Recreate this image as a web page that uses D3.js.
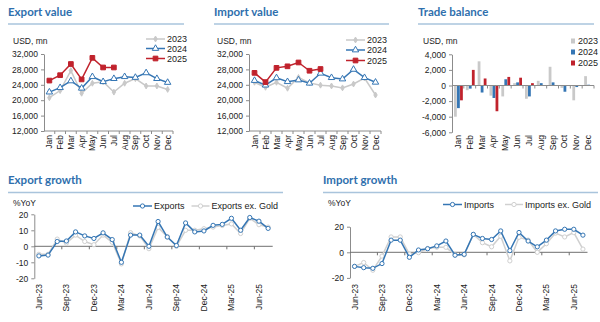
<!DOCTYPE html>
<html>
<head>
<meta charset="utf-8">
<script src="https://cdn.jsdelivr.net/npm/d3@7"></script>
<style>
  body { margin: 0; background: #fff; }
  text { font-family: "Liberation Sans", Arial, sans-serif; fill: #222; }
</style>
</head>
<body>
<div id="chart"></div>
<script>
// ---- data ----
const months = ["Jan", "Feb", "Mar", "Apr", "May", "Jun", "Jul", "Aug", "Sep", "Oct", "Nov", "Dec"];
const years = ["2023", "2024", "2025"];

const export2023 = [20650, 22500, 27700, 21800, 24400, 24800, 22100, 24400, 25600, 23700, 23700, 22800];
const export2024 = [22100, 23250, 25000, 23100, 26100, 24800, 25600, 26100, 25900, 27100, 25600, 24600];
const export2025 = [25100, 26500, 29400, 25400, 31000, 28500, 28500];

const import2023 = [24650, 23350, 24650, 23100, 25900, 24500, 23900, 23700, 23200, 24200, 25750, 21350];
const import2024 = [25100, 23900, 25800, 24800, 25250, 24400, 27000, 25850, 25500, 28000, 25850, 24650];
const import2025 = [27100, 24700, 28400, 28800, 29800, 27650, 28100];

const balance2023 = [-4000, -600, 3100, -1300, -1400, 300, -1700, 600, 2400, -300, -1900, 1200];
const balance2024 = [-2900, -400, -900, -1600, 800, 400, -1400, 300, 400, -800, -200, 100];
const balance2025 = [-1900, 2000, 900, -3300, 1100, 1000, 300];

const growthMonths = ["Jun-23", "Jul-23", "Aug-23", "Sep-23", "Oct-23", "Nov-23", "Dec-23",
  "Jan-24", "Feb-24", "Mar-24", "Apr-24", "May-24", "Jun-24", "Jul-24", "Aug-24", "Sep-24",
  "Oct-24", "Nov-24", "Dec-24", "Jan-25", "Feb-25", "Mar-25", "Apr-25", "May-25", "Jun-25", "Jul-25"];
const growthLabels = ["Jun-23", "Sep-23", "Dec-23", "Mar-24", "Jun-24", "Sep-24", "Dec-24", "Mar-25", "Jun-25"];

const exportsYoY = [-6, -5.5, 3, 3.3, 9, 6.5, 4.9, 8.4, 4.2, -10, 7, 7, 0, 15.5, 5.8, 0.5, 14.6, 9, 9.6, 13.1, 13.7, 17.5, 10, 18, 15.7, 11.2];
const exportsExGoldYoY = [-5, -5, 4.5, 2, 7, 3, 1, 7, 2.5, -11, 8.5, 6.5, -1.5, 11.8, 6, 0, 10, 10, 11, 12, 13, 14, 8, 17.5, 13.5, 12];
const importsYoY = [-11, -12, -12.5, -8.8, 9.5, 9.5, -3.9, 1.8, 2.8, 5, 8.8, -2.3, -1.6, 14, 10.8, 10, 16.7, 1.3, 15.5, 8.8, 4.3, 9.5, 16.7, 18, 18, 13.4];
const importsExGoldYoY = [-11, -8, -14, -3, 12, 12, -1.5, -0.3, 3, 4, 3.9, -2, -2, 14, 7.5, 4.3, 12.5, -6.7, 11.7, 9.5, 0, 6.7, 15, 12, 15.4, 2.5];

// ---- styles ----
const titleBlue = "#2f6fad";
const ruleBlue = "#a9c4dc";
const blue = "#3576b4";
const red = "#c0222c";
const gray = "#c9c9c9";
const axisGray = "#8c8c8c";

const svg = d3.select("#chart").append("svg")
  .attr("width", 600).attr("height", 322)
  .style("background", "#fff");

const fmt = d => d3.format(",")(d).replace("\u2212", "-");

function panelTitle(text, x, y, x1, ruleY) {
  svg.append("text")
    .attr("x", x).attr("y", y)
    .style("font-family", "Lato, 'Open Sans', sans-serif")
    .style("font-weight", "bold")
    .style("font-size", "11.5px")
    .style("fill", titleBlue)
    .text(text);
  svg.append("line")
    .attr("x1", x).attr("x2", x1)
    .attr("y1", ruleY).attr("y2", ruleY)
    .attr("stroke", ruleBlue).attr("stroke-width", 1.5);
}

function unitLabel(text, x, y) {
  svg.append("text").attr("x", x).attr("y", y)
    .style("font-size", "8.5px").text(text);
}

function yAxis(g, y, ticks, x0, format) {
  const ax = g.append("g")
    .attr("transform", `translate(${x0},0)`)
    .call(d3.axisLeft(y).tickValues(ticks).tickSize(3).tickSizeOuter(0).tickFormat(format));
  ax.select(".domain").attr("stroke", axisGray);
  ax.selectAll(".tick line").attr("stroke", axisGray);
  ax.selectAll("text").style("font-size", "8.5px").style("font-family", "'Liberation Sans', Arial, sans-serif").attr("fill", "#222");
}

// category axis: line at yLine, boundary ticks, rotated labels at labelY
function catAxis(g, x, yLine, labelY, labels) {
  g.append("line")
    .attr("x1", x.range()[0]).attr("x2", x.range()[1])
    .attr("y1", yLine).attr("y2", yLine)
    .attr("stroke", axisGray);
  g.selectAll(null).data(x.domain().slice(1))
    .join("line")
    .attr("x1", d => x(d)).attr("x2", d => x(d))
    .attr("y1", yLine).attr("y2", yLine + 3)
    .attr("stroke", axisGray);
  g.append("line")
    .attr("x1", x.range()[1]).attr("x2", x.range()[1])
    .attr("y1", yLine).attr("y2", yLine + 3)
    .attr("stroke", axisGray);
  g.selectAll(null).data(labels)
    .join("text")
    .attr("transform", d => `translate(${x(d) + x.bandwidth() / 2 + 3},${labelY}) rotate(-90)`)
    .attr("text-anchor", "end")
    .style("font-size", "8.5px")
    .text(d => d);
}

function drawSeries(g, x, y, cats, vals, color, width, marker, size, fill) {
  const pts = vals.map((v, i) => [x(cats[i]) + x.bandwidth() / 2, y(v)]);
  g.append("path")
    .attr("d", d3.line()(pts))
    .attr("fill", "none").attr("stroke", color).attr("stroke-width", width);
  g.selectAll(null).data(pts).join("path")
    .attr("transform", d => `translate(${d[0]},${d[1]})`)
    .attr("d", d3.symbol(marker, size))
    .attr("fill", fill).attr("stroke", color).attr("stroke-width", 1);
}

function legendLine(g, x, y, len, color, width, marker, size, fill, label) {
  g.append("line").attr("x1", x).attr("x2", x + len).attr("y1", y).attr("y2", y)
    .attr("stroke", color).attr("stroke-width", width);
  g.append("path").attr("transform", `translate(${x + len / 2},${y})`)
    .attr("d", d3.symbol(marker, size))
    .attr("fill", fill).attr("stroke", color);
  g.append("text").attr("x", x + len + 2).attr("y", y + 3.2)
    .style("font-size", "9px").text(label);
}

// ---- value charts ----
function valueChart(title, tx, ruleX1, x0, x1, unitX, d23, d24, d25, legX, legY) {
  panelTitle(title, tx, 16, ruleX1, 24);
  unitLabel("USD, mn", unitX, 44);
  const g = svg.append("g");
  const x = d3.scaleBand().domain(months).range([x0, x1]);
  const y = d3.scaleLinear().domain([12000, 32000]).range([131, 54]);
  yAxis(g, y, d3.range(12000, 32001, 4000), x0, fmt);
  catAxis(g, x, 131, 135, months);
  drawSeries(g, x, y, months, d23, gray, 1.5, d3.symbolDiamond, 10, gray);
  drawSeries(g, x, y, months, d24, blue, 1.5, d3.symbolTriangle, 18, "#fff");
  drawSeries(g, x, y, months, d25, red, 1.5, d3.symbolSquare, 22, red);
  legendLine(g, legX, legY[0], 19, gray, 1.5, d3.symbolDiamond, 10, gray, years[0]);
  legendLine(g, legX, legY[1], 19, blue, 1.5, d3.symbolTriangle, 18, "#fff", years[1]);
  legendLine(g, legX, legY[2], 19, red, 1.5, d3.symbolSquare, 22, red, years[2]);
}

valueChart("Export value", 8, 184, 44, 173, 13, export2023, export2024, export2025, 146, [39, 48.5, 58.5]);
valueChart("Import value", 214, 389, 249, 381, 217, import2023, import2024, import2025, 346, [40, 50, 60.5]);

// ---- trade balance ----
{
  panelTitle("Trade balance", 418, 16, 594, 24);
  unitLabel("USD, mn", 423, 44);
  const g = svg.append("g");
  const x = d3.scaleBand().domain(months).range([452, 594]);
  const y = d3.scaleLinear().domain([-6000, 4000]).range([132.3, 54.3]);
  const xi = d3.scaleBand().domain(years).range([2, x.bandwidth() - 1]).paddingInner(0.08);
  yAxis(g, y, d3.range(-6000, 4001, 2000), 452, fmt);
  const sets = [[balance2023, gray], [balance2024, blue], [balance2025, red]];
  sets.forEach(([vals, color], k) => {
    g.selectAll(null).data(vals).join("rect")
      .attr("x", (d, i) => x(months[i]) + xi(years[k]))
      .attr("width", xi.bandwidth())
      .attr("y", d => y(Math.max(0, d)))
      .attr("height", d => Math.abs(y(d) - y(0)))
      .attr("fill", color);
  });
  catAxis(g, x, y(0), 135, months);
  [[gray, 41], [blue, 52], [red, 63]].forEach(([c, yy], k) => {
    g.append("rect").attr("x", 571).attr("y", yy - 2.5).attr("width", 4).attr("height", 5).attr("fill", c);
    g.append("text").attr("x", 578).attr("y", yy + 3.2).style("font-size", "9px").text(years[k]);
  });
}

// ---- growth charts ----
function growthChart(title, tx, ruleX1, x0, x1, yTop, yBot, ticks, unitX, unitY, a, b, names, leg) {
  panelTitle(title, tx, 184, ruleX1, 192.5);
  unitLabel("%YoY", unitX, unitY);
  const g = svg.append("g");
  const x = d3.scaleBand().domain(growthMonths).range([x0, x1]);
  const y = d3.scaleLinear().domain([-20, 20]).range([yBot, yTop]);
  yAxis(g, y, ticks, x0, d => String(d));
  g.append("line")
    .attr("x1", x0).attr("x2", x1).attr("y1", y(0)).attr("y2", y(0))
    .attr("stroke", "#707070");
  g.selectAll(null).data(growthMonths.filter((d, i) => i % 3 === 0 && i > 0))
    .join("line")
    .attr("x1", d => x(d)).attr("x2", d => x(d))
    .attr("y1", y(0)).attr("y2", y(0) + 3)
    .attr("stroke", "#707070");
  g.selectAll(null).data(growthLabels).join("text")
    .attr("transform", d => `translate(${x(d) + x.bandwidth() / 2 + 3},284) rotate(-90)`)
    .attr("text-anchor", "end")
    .style("font-size", "8.5px")
    .text(d => d);
  drawSeries(g, x, y, growthMonths, b, "#d0d0d0", 1.5, d3.symbolCircle, 14, "#fff");
  drawSeries(g, x, y, growthMonths, a, blue, 1.5, d3.symbolCircle, 14, "#fff");
  legendLine(g, leg[0], leg[2], 19, blue, 1.5, d3.symbolCircle, 14, "#fff", names[0]);
  legendLine(g, leg[1], leg[2], 18, "#d0d0d0", 1.5, d3.symbolCircle, 14, "#fff", names[1]);
}

growthChart("Export growth", 8, 283, 34.3, 272.7, 214.3, 278.3, [-20, -10, 0, 10, 20], 13, 206,
  exportsYoY, exportsExGoldYoY, ["Exports", "Exports ex. Gold"], [133, 191.5, 206]);
growthChart("Import growth", 323, 598, 350, 587.5, 226.7, 277.9, [-20, 0, 20], 328, 206,
  importsYoY, importsExGoldYoY, ["Imports", "Imports ex. Gold"], [443, 505, 204.5]);
</script>
</body>
</html>
